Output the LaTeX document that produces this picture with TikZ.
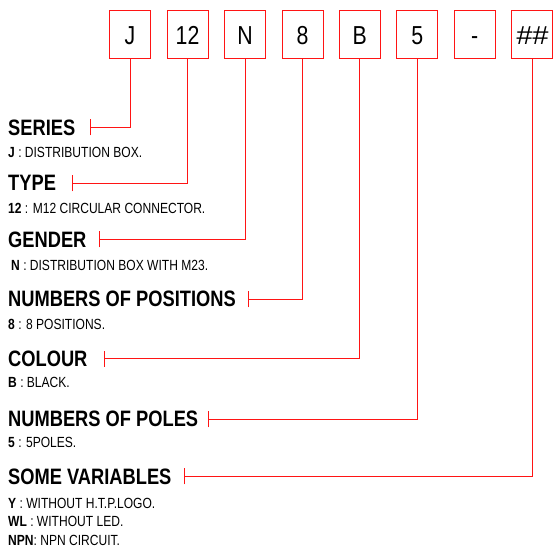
\documentclass[tikz,border=0pt]{standalone}
\usepackage{fontspec}
\usepackage{graphicx}
\setmainfont{Liberation Sans}[FakeStretch=0.82]
\usetikzlibrary{arrows.meta}
\definecolor{codered}{RGB}{255,20,20}
\tikzset{
  codebox/.style={draw=codered, line width=0.9pt, minimum width=41pt, minimum height=48pt,
    inner sep=0pt, text height=20pt, text depth=0pt, font=\fontsize{26}{28}\selectfont},
  heading/.style={anchor=base west, inner sep=0pt, font=\fontsize{22.3}{26}\selectfont\bfseries},
  desc/.style={anchor=base west, inner sep=0pt, font=\fontsize{14.7}{17}\selectfont},
  conn/.style={draw=codered, line width=0.9pt, {Bar[width=16pt]}-}
}
\begin{document}
\begin{tikzpicture}[x=1pt,y=-1pt]
\useasboundingbox (0,0) rectangle (553,552);
% code boxes
\node[codebox] (bJ)  at (130,34)   {J};
\node[codebox] (b12) at (187.5,34) {12};
\node[codebox] (bN)  at (245,34)   {N};
\node[codebox] (b8)  at (302.5,34) {8};
\node[codebox] (bB)  at (359.7,34) {B};
\node[codebox] (b5)  at (417.2,34) {5};
\node[codebox] (bD)  at (474.6,34) {-};
\node[codebox] (bH)  at (532,34)   {\scalebox{1.35}[1]{\itshape\#\#}};
% headings
\node[heading] (hS) at (8,135)   {SERIES};
\node[heading] (hT) at (8,190.7) {TYPE};
\node[heading] (hG) at (8,247.7) {GENDER};
\node[heading] (hP) at (8,306.7) {NUMBERS OF POSITIONS};
\node[heading] (hC) at (8,366.7) {COLOUR};
\node[heading] (hL) at (8,426.7) {NUMBERS OF POLES};
\node[heading] (hV) at (8,484)   {SOME VARIABLES};
% descriptions
\node[desc] (dS) at (8,157)    {\textbf{J} : DISTRIBUTION BOX.};
\node[desc] (dT) at (8,213.3)  {\textbf{12} : M12 CIRCULAR CONNECTOR.};
\node[desc] (dG) at (11,270.7) {\textbf{N} : DISTRIBUTION BOX WITH M23.};
\node[desc] (dP) at (8,329.3)  {\textbf{8} : 8 POSITIONS.};
\node[desc] (dC) at (8,387.3)  {\textbf{B} : BLACK.};
\node[desc] (dL) at (8,447)    {\textbf{5} : 5POLES.};
\node[desc] (dV1) at (8,508.3) {\textbf{Y} : WITHOUT H.T.P.LOGO.};
\node[desc] (dV2) at (8,526.5) {\textbf{WL} : WITHOUT LED.};
\node[desc] (dV3) at (8,545)   {\textbf{NPN}: NPN CIRCUIT.};
% tick points
\coordinate (tS) at (90,127.3);
\coordinate (tT) at (71.7,183.3);
\coordinate (tG) at (99.3,239.3);
\coordinate (tP) at (248.3,299.3);
\coordinate (tC) at (104.3,358.7);
\coordinate (tL) at (208.3,419.3);
\coordinate (tV) at (184.3,476.3);
% connectors
\draw[conn] (tS) -| (bJ.south);
\draw[conn] (tT) -| (b12.south);
\draw[conn] (tG) -| (bN.south);
\draw[conn] (tP) -| (b8.south);
\draw[conn] (tC) -| (bB.south);
\draw[conn] (tL) -| (b5.south);
\draw[conn] (tV) -| (bH.south);
\end{tikzpicture}
\end{document}
